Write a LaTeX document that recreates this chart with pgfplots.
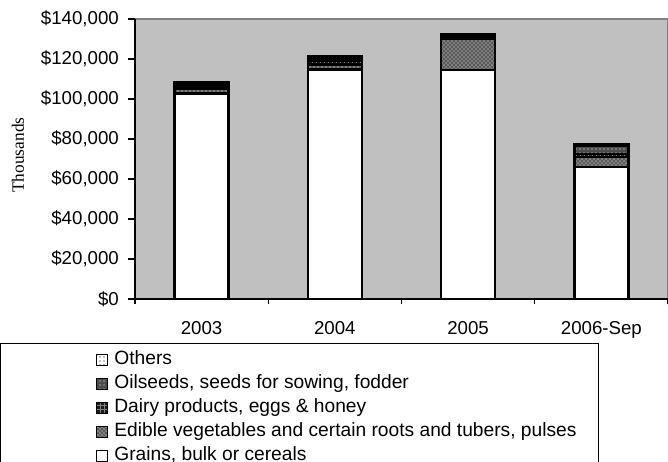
\documentclass[border=0pt]{standalone}
\usepackage{pgfplots}
\pgfplotsset{compat=1.18}
\usetikzlibrary{patterns}
\usepackage{fontspec}
\setmainfont{Liberation Sans}
\newfontfamily\seriffont{Liberation Serif}
\definecolor{plotbg}{HTML}{C0C0C0}
\begin{document}
\fontsize{14pt}{16pt}\selectfont
\begin{tikzpicture}
\useasboundingbox (-101.25pt,-121.5pt) rectangle (399.75pt,224.25pt);
\clip (-101.25pt,-121.5pt) rectangle (399.75pt,224.25pt);
\begin{axis}[
  scale only axis, width=399.75pt, height=210pt,
  ybar stacked, bar width=40.5pt,
  xmin=-0.5, xmax=3.5, ymin=0, ymax=140000,
  scaled y ticks=false,
  clip=false,
  axis x line*=bottom, axis y line*=left,
  axis line style={black, line width=0.8pt, -},
  axis background/.style={fill=plotbg, draw=gray, line width=0.8pt},
  xtick={0,1,2,3}, xticklabels={2003,2004,2005,2006-Sep},
  minor xtick={-0.5,0.5,1.5,2.5,3.5},
  major x tick style={draw=none},
  minor x tick style={black, line width=0.8pt},
  tick align=outside,
  major tick length=5.25pt, minor tick length=4pt,
  ytick={0,20000,40000,60000,80000,100000,120000,140000},
  yticklabels={\$0,\$20{,}000,\$40{,}000,\$60{,}000,\$80{,}000,\$100{,}000,\$120{,}000,\$140{,}000},
  ytick style={black, line width=0.8pt},
  xticklabel style={font=\fontsize{14pt}{16pt}\selectfont, yshift=-6.8pt},
  yticklabel style={font=\fontsize{14pt}{16pt}\selectfont, xshift=-2pt},
  ylabel={\seriffont\fontsize{13pt}{15pt}\selectfont Thousands},
  ylabel style={at={(axis description cs:-0.2195,0.514)}, anchor=center},
  reverse legend,
  legend cell align=left,
  legend style={at={(axis description cs:-0.0807,-0.165)}, anchor=north west, draw=none, fill=none,
    font=\fontsize{14.4pt}{16pt}\selectfont, row sep=0pt,
    /tikz/every odd column/.append style={column sep=3pt},
    nodes={inner ysep=1.5pt, inner xsep=2pt, text height=11pt, text depth=4pt}},
  leg/.style={legend image code/.code={\draw[##1, line width=0.6pt] (0pt,-3.6pt) rectangle (8pt,4.4pt);}},
]
\addplot+[leg, fill=white, draw=black, line width=1.7pt] coordinates {(0,102800) (1,114700) (2,114500) (3,66000)};
\addlegendentry{Grains, bulk or cereals}
\addplot+[leg, fill=black!65, draw=black, line width=1.7pt, postaction={pattern=crosshatch dots, pattern color=white}] coordinates {(0,2500) (1,2500) (2,15500) (3,5000)};
\addlegendentry{Edible vegetables and certain roots and tubers, pulses}
\addplot+[leg, fill=black!90, draw=black, line width=1.7pt, postaction={pattern=grid, pattern color=gray}] coordinates {(0,1500) (1,2000) (2,1000) (3,1500)};
\addlegendentry{Dairy products, eggs \& honey}
\addplot+[leg, fill=black!70, draw=black, line width=1.7pt, postaction={pattern=dots, pattern color=white}] coordinates {(0,1000) (1,1200) (2,800) (3,4000)};
\addlegendentry{Oilseeds, seeds for sowing, fodder}
\addplot+[leg, fill=white, draw=black, line width=1.7pt, postaction={pattern=dots, pattern color=black}] coordinates {(0,800) (1,1000) (2,700) (3,1000)};
\addlegendentry{Others}
\draw[black, line width=0.6pt] (rel axis cs:-0.2523,-0.1571) rectangle (rel axis cs:0.8687,-0.646);
\end{axis}
\end{tikzpicture}
\end{document}
